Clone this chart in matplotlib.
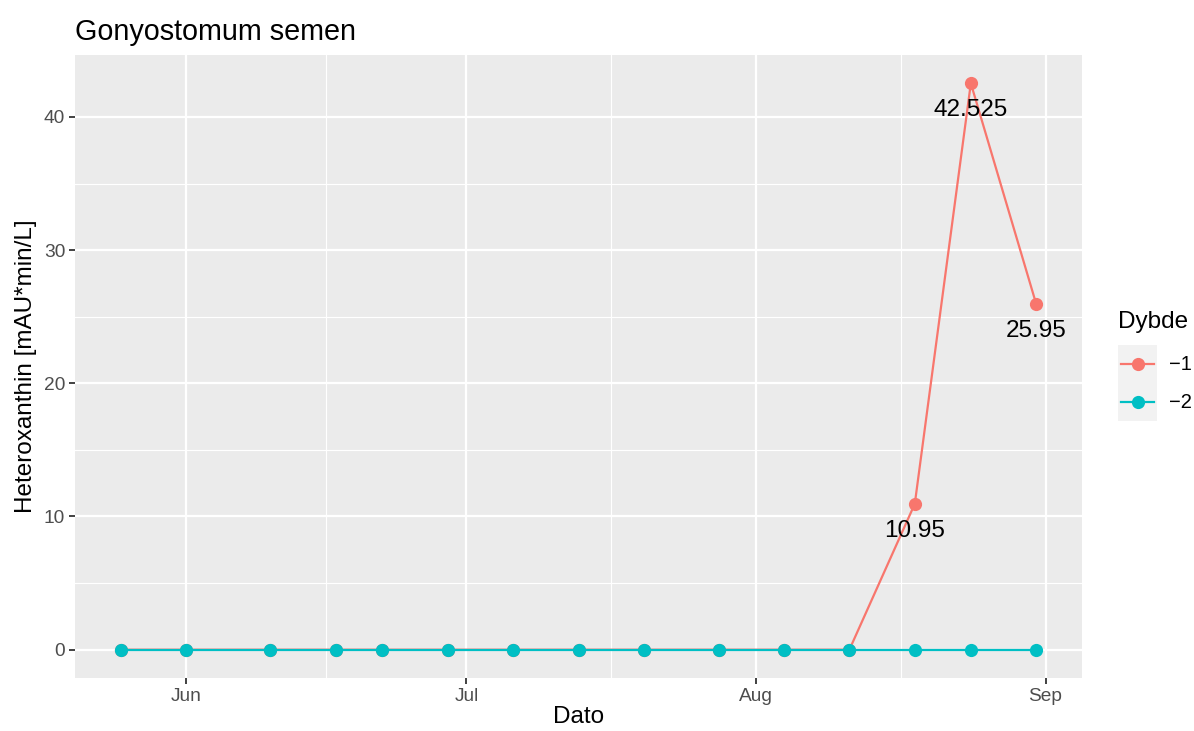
import matplotlib
matplotlib.use("Agg")
import matplotlib.pyplot as plt
import matplotlib.dates as mdates
from matplotlib.patches import Rectangle
from matplotlib.lines import Line2D
import datetime as dt

plt.rcParams['font.family'] = ['Liberation Sans', 'DejaVu Sans']

# data
dates = ["2020-05-25", "2020-06-01", "2020-06-10", "2020-06-17", "2020-06-22",
         "2020-06-29", "2020-07-06", "2020-07-13", "2020-07-20", "2020-07-28",
         "2020-08-04", "2020-08-11", "2020-08-18", "2020-08-24", "2020-08-31"]
depth_1 = [0, 0, 0, 0, 0, 0, 0, 0, 0, 0, 0, 0, 10.95, 42.525, 25.95]
depth_2 = [0, 0, 0, 0, 0, 0, 0, 0, 0, 0, 0, 0, 0, 0, 0]
series_names = ["\u22121", "\u22122"]
colors = ["#F8766D", "#00BFC4"]

x = [dt.datetime.strptime(d, "%Y-%m-%d") for d in dates]

W, H = 1194, 731
fig = plt.figure(figsize=(W / 100, H / 100), dpi=100)
ax = fig.add_axes([75/W, 1-678/H, (1082-75)/W, (678-55)/H])
ax.set_facecolor("#EBEBEB")
for s in ax.spines.values():
    s.set_visible(False)

for vals, col, name in zip([depth_1, depth_2], colors, series_names):
    ax.plot(x, vals, color=col, lw=1.6, marker="o", markersize=9.5,
            markeredgewidth=0, label=name, zorder=3)

# value labels for nonzero points
for xi, v in zip(x, depth_1):
    if v != 0:
        ax.annotate(f"{v:g}", (xi, v), xytext=(0, -19.5), textcoords="offset points",
                    ha="center", va="center", fontsize=17.5, color="black", zorder=4)

# limits like ggplot expansion
xn = mdates.date2num(x)
xr = xn.max() - xn.min()
ax.set_xlim(xn.min() - 0.05 * xr, xn.max() + 0.05 * xr)
ymax = max(depth_1)
ax.set_ylim(-0.05 * ymax, ymax * 1.05)

months = [dt.datetime(2020, m, 1) for m in (6, 7, 8, 9)]
ax.set_xticks(months)
ax.set_xticklabels(["Jun", "Jul", "Aug", "Sep"])
mnum = mdates.date2num(months)
ax.set_xticks([(a + b) / 2 for a, b in zip(mnum[:-1], mnum[1:])], minor=True)
ax.set_yticks([0, 10, 20, 30, 40])
ax.set_yticks([5, 15, 25, 35], minor=True)

ax.grid(which="major", color="white", lw=1.6, zorder=0)
ax.grid(which="minor", color="white", lw=0.8, zorder=0)
ax.set_axisbelow(True)
ax.tick_params(which="major", length=4.1, width=1.3, color="#333333",
               labelsize=13.8, labelcolor="#4D4D4D", pad=3)
ax.tick_params(which="minor", length=0)

ax.set_xlabel("Dato", fontsize=17.5, labelpad=1)
ax.set_ylabel("Heteroxanthin [mAU*min/L]", fontsize=17.5, labelpad=5)
ax.set_title("Gonyostomum semen", fontsize=20.7, loc="left", pad=11)

# legend drawn ggplot-style: title, grey key boxes, line+point keys
key_l, key_w, key_h, key_top = 1118, 39, 38, 345
fig.text(key_l / W, 1 - 322 / H, "Dybde", fontsize=17.5, ha="left", va="center")
for i, (col, name) in enumerate(zip(colors, series_names)):
    top = key_top + i * key_h
    fig.patches.append(Rectangle((key_l / W, 1 - (top + key_h) / H), key_w / W, key_h / H,
                                 transform=fig.transFigure, facecolor="#F2F2F2",
                                 edgecolor="none"))
    yc = 1 - (top + key_h / 2) / H
    fig.lines.append(Line2D([(key_l + 3) / W, (key_l + key_w - 3) / W], [yc, yc],
                            transform=fig.transFigure, color=col, lw=1.6))
    fig.lines.append(Line2D([(key_l + key_w / 2) / W], [yc], transform=fig.transFigure,
                            color=col, marker="o", markersize=9.5, markeredgewidth=0))
    fig.text((key_l + key_w + 12) / W, yc, name, fontsize=14.5, ha="left", va="center")

fig.savefig("out.png", dpi=100)
